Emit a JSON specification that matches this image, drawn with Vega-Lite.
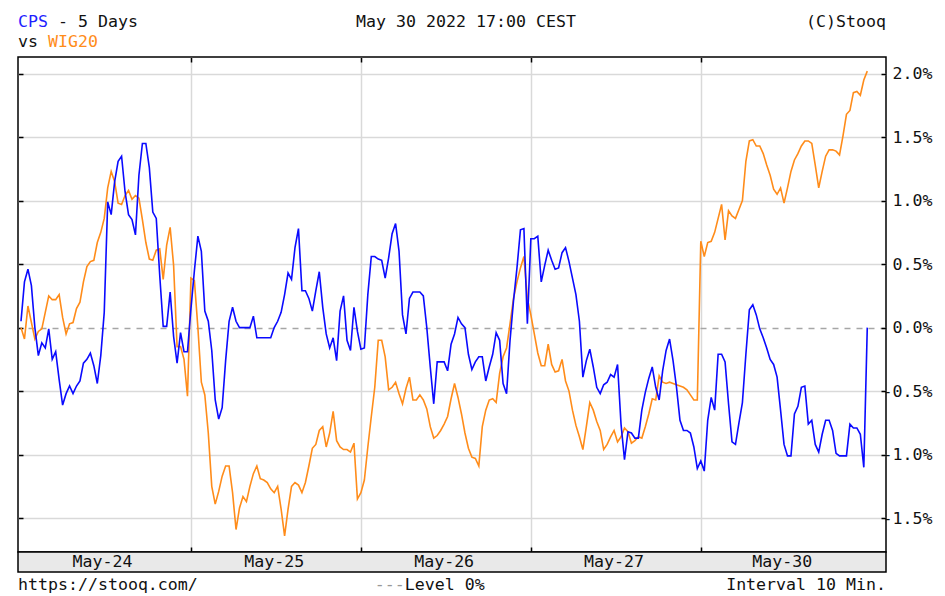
{
  "$schema": "https://vega.github.io/schema/vega-lite/v6.json",
  "background": "white",
  "padding": {"left": 16, "top": 0, "right": 0, "bottom": 0},
  "spacing": 0,
  "bounds": "flush",
  "config": {
    "font": "DejaVu Sans Mono",
    "text": {"font": "DejaVu Sans Mono", "fontSize": 16.6, "color": "#111111"},
    "axis": {"labelFont": "DejaVu Sans Mono", "labelFontSize": 16.6, "labelColor": "#111111"},
    "view": {"stroke": "black", "strokeWidth": 1.5}
  },
  "datasets": {
    "prices": [
      {"i":0,"cps":0.05,"wig20":0},{"i":1,"cps":0.36,"wig20":-0.09},{"i":2,"cps":0.46,"wig20":0.17},{"i":3,"cps":0.33,"wig20":0.04},{"i":4,"cps":0,"wig20":-0.09},{"i":5,"cps":-0.22,"wig20":-0.03},{"i":6,"cps":-0.12,"wig20":-0.01},{"i":7,"cps":-0.16,"wig20":0.12},{"i":8,"cps":-0.01,"wig20":0.25},{"i":9,"cps":-0.25,"wig20":0.22},
      {"i":10,"cps":-0.19,"wig20":0.22},{"i":11,"cps":-0.41,"wig20":0.26},{"i":12,"cps":-0.61,"wig20":0.08},{"i":13,"cps":-0.52,"wig20":-0.05},{"i":14,"cps":-0.46,"wig20":0.03},{"i":15,"cps":-0.52,"wig20":0.04},{"i":16,"cps":-0.46,"wig20":0.15},{"i":17,"cps":-0.42,"wig20":0.2},{"i":18,"cps":-0.28,"wig20":0.36},{"i":19,"cps":-0.25,"wig20":0.48},
      {"i":20,"cps":-0.2,"wig20":0.52},{"i":21,"cps":-0.3,"wig20":0.53},{"i":22,"cps":-0.44,"wig20":0.67},{"i":23,"cps":-0.22,"wig20":0.75},{"i":24,"cps":0.12,"wig20":0.86},{"i":25,"cps":0.99,"wig20":1.1},{"i":26,"cps":0.89,"wig20":1.23},{"i":27,"cps":1.15,"wig20":1.15},{"i":28,"cps":1.31,"wig20":0.98},{"i":29,"cps":1.35,"wig20":0.97},
      {"i":30,"cps":1.07,"wig20":1.04},{"i":31,"cps":0.89,"wig20":1.08},{"i":32,"cps":0.85,"wig20":1.01},{"i":33,"cps":0.73,"wig20":1.04},{"i":34,"cps":1.2,"wig20":1.02},{"i":35,"cps":1.45,"wig20":0.85},{"i":36,"cps":1.45,"wig20":0.67},{"i":37,"cps":1.26,"wig20":0.54},{"i":38,"cps":0.91,"wig20":0.53},{"i":39,"cps":0.86,"wig20":0.61},
      {"i":40,"cps":0.41,"wig20":0.62},{"i":41,"cps":0.01,"wig20":0.38},{"i":42,"cps":0.01,"wig20":0.65},{"i":43,"cps":0.28,"wig20":0.79},{"i":44,"cps":-0.07,"wig20":0.49},{"i":45,"cps":-0.28,"wig20":-0.15},{"i":46,"cps":-0.04,"wig20":-0.15},{"i":47,"cps":-0.19,"wig20":-0.25},{"i":48,"cps":-0.19,"wig20":-0.54},
      {"i":49,"cps":0.15,"wig20":0.39},{"i":50,"cps":0.45,"wig20":0.37},{"i":51,"cps":0.72,"wig20":0},{"i":52,"cps":0.6,"wig20":-0.43},{"i":53,"cps":0.13,"wig20":-0.53},{"i":54,"cps":0.05,"wig20":-0.83},{"i":55,"cps":-0.18,"wig20":-1.25},{"i":56,"cps":-0.57,"wig20":-1.39},{"i":57,"cps":-0.72,"wig20":-1.29},{"i":58,"cps":-0.63,"wig20":-1.17},
      {"i":59,"cps":-0.26,"wig20":-1.09},{"i":60,"cps":0.05,"wig20":-1.09},{"i":61,"cps":0.16,"wig20":-1.3},{"i":62,"cps":0.05,"wig20":-1.59},{"i":63,"cps":0,"wig20":-1.42},{"i":64,"cps":0,"wig20":-1.33},{"i":65,"cps":0,"wig20":-1.37},{"i":66,"cps":0,"wig20":-1.25},{"i":67,"cps":0.09,"wig20":-1.15},{"i":68,"cps":-0.08,"wig20":-1.09},
      {"i":69,"cps":-0.08,"wig20":-1.19},{"i":70,"cps":-0.08,"wig20":-1.2},{"i":71,"cps":-0.08,"wig20":-1.22},{"i":72,"cps":-0.08,"wig20":-1.27},{"i":73,"cps":0,"wig20":-1.3},{"i":74,"cps":0.05,"wig20":-1.25},{"i":75,"cps":0.12,"wig20":-1.43},{"i":76,"cps":0.26,"wig20":-1.64},{"i":77,"cps":0.43,"wig20":-1.43},{"i":78,"cps":0.38,"wig20":-1.25},
      {"i":79,"cps":0.63,"wig20":-1.22},{"i":80,"cps":0.78,"wig20":-1.24},{"i":81,"cps":0.29,"wig20":-1.3},{"i":82,"cps":0.29,"wig20":-1.22},{"i":83,"cps":0.23,"wig20":-1.09},{"i":84,"cps":0.13,"wig20":-0.95},{"i":85,"cps":0.29,"wig20":-0.92},{"i":86,"cps":0.44,"wig20":-0.81},{"i":87,"cps":0.16,"wig20":-0.78},{"i":88,"cps":-0.05,"wig20":-0.94},
      {"i":89,"cps":-0.16,"wig20":-0.83},{"i":90,"cps":-0.08,"wig20":-0.66},{"i":91,"cps":-0.26,"wig20":-0.89},{"i":92,"cps":0.13,"wig20":-0.94},{"i":93,"cps":0.25,"wig20":-0.96},{"i":94,"cps":-0.1,"wig20":-0.96},{"i":95,"cps":-0.18,"wig20":-0.98},{"i":96,"cps":0.16,"wig20":-0.91},{"i":97,"cps":-0.03,"wig20":-1.35},
      {"i":98,"cps":-0.17,"wig20":-1.3},{"i":99,"cps":-0.16,"wig20":-1.2},{"i":100,"cps":0.26,"wig20":-0.94},{"i":101,"cps":0.56,"wig20":-0.7},{"i":102,"cps":0.56,"wig20":-0.47},{"i":103,"cps":0.54,"wig20":-0.1},{"i":104,"cps":0.53,"wig20":-0.1},{"i":105,"cps":0.39,"wig20":-0.23},{"i":106,"cps":0.55,"wig20":-0.49},{"i":107,"cps":0.74,"wig20":-0.47},
      {"i":108,"cps":0.82,"wig20":-0.43},{"i":109,"cps":0.6,"wig20":-0.52},{"i":110,"cps":0.1,"wig20":-0.6},{"i":111,"cps":-0.05,"wig20":-0.48},{"i":112,"cps":0.23,"wig20":-0.39},{"i":113,"cps":0.28,"wig20":-0.57},{"i":114,"cps":0.28,"wig20":-0.57},{"i":115,"cps":0.28,"wig20":-0.53},{"i":116,"cps":0.25,"wig20":-0.57},{"i":117,"cps":0,"wig20":-0.64},
      {"i":118,"cps":-0.31,"wig20":-0.78},{"i":119,"cps":-0.6,"wig20":-0.87},{"i":120,"cps":-0.27,"wig20":-0.85},{"i":121,"cps":-0.27,"wig20":-0.81},{"i":122,"cps":-0.27,"wig20":-0.76},{"i":123,"cps":-0.34,"wig20":-0.7},{"i":124,"cps":-0.13,"wig20":-0.56},{"i":125,"cps":-0.05,"wig20":-0.44},{"i":126,"cps":0.08,"wig20":-0.55},{"i":127,"cps":0.03,"wig20":-0.68},
      {"i":128,"cps":0,"wig20":-0.83},{"i":129,"cps":-0.21,"wig20":-0.95},{"i":130,"cps":-0.33,"wig20":-1.02},{"i":131,"cps":-0.27,"wig20":-1.03},{"i":132,"cps":-0.23,"wig20":-1.09},{"i":133,"cps":-0.23,"wig20":-0.78},{"i":134,"cps":-0.42,"wig20":-0.65},{"i":135,"cps":-0.31,"wig20":-0.57},{"i":136,"cps":-0.21,"wig20":-0.56},{"i":137,"cps":-0.04,"wig20":-0.59},
      {"i":138,"cps":-0.1,"wig20":-0.36},{"i":139,"cps":-0.44,"wig20":-0.23},{"i":140,"cps":-0.52,"wig20":-0.16},{"i":141,"cps":-0.1,"wig20":0.03},{"i":142,"cps":0.21,"wig20":0.23},{"i":143,"cps":0.47,"wig20":0.36},{"i":144,"cps":0.77,"wig20":0.47},{"i":145,"cps":0.78,"wig20":0.56},{"i":146,"cps":0.03,"wig20":0.23},
      {"i":147,"cps":0.7,"wig20":0.1},{"i":148,"cps":0.7,"wig20":-0.05},{"i":149,"cps":0.72,"wig20":-0.2},{"i":150,"cps":0.36,"wig20":-0.3},{"i":151,"cps":0.49,"wig20":-0.3},{"i":152,"cps":0.61,"wig20":-0.13},{"i":153,"cps":0.53,"wig20":-0.29},{"i":154,"cps":0.46,"wig20":-0.35},{"i":155,"cps":0.47,"wig20":-0.34},{"i":156,"cps":0.59,"wig20":-0.25},
      {"i":157,"cps":0.63,"wig20":-0.42},{"i":158,"cps":0.52,"wig20":-0.5},{"i":159,"cps":0.39,"wig20":-0.65},{"i":160,"cps":0.26,"wig20":-0.77},{"i":161,"cps":0.05,"wig20":-0.86},{"i":162,"cps":-0.39,"wig20":-0.96},{"i":163,"cps":-0.26,"wig20":-0.78},{"i":164,"cps":-0.17,"wig20":-0.59},{"i":165,"cps":-0.31,"wig20":-0.65},{"i":166,"cps":-0.47,"wig20":-0.74},
      {"i":167,"cps":-0.52,"wig20":-0.81},{"i":168,"cps":-0.45,"wig20":-0.96},{"i":169,"cps":-0.43,"wig20":-0.92},{"i":170,"cps":-0.37,"wig20":-0.86},{"i":171,"cps":-0.39,"wig20":-0.81},{"i":172,"cps":-0.29,"wig20":-0.9},{"i":173,"cps":-0.76,"wig20":-0.86},{"i":174,"cps":-1.04,"wig20":-0.79},{"i":175,"cps":-0.82,"wig20":-0.82},{"i":176,"cps":-0.83,"wig20":-0.91},
      {"i":177,"cps":-0.87,"wig20":-0.89},{"i":178,"cps":-0.87,"wig20":-0.86},{"i":179,"cps":-0.65,"wig20":-0.87},{"i":180,"cps":-0.51,"wig20":-0.78},{"i":181,"cps":-0.4,"wig20":-0.68},{"i":182,"cps":-0.31,"wig20":-0.56},{"i":183,"cps":-0.47,"wig20":-0.57},{"i":184,"cps":-0.57,"wig20":-0.38},{"i":185,"cps":-0.34,"wig20":-0.43},{"i":186,"cps":-0.18,"wig20":-0.44},
      {"i":187,"cps":-0.09,"wig20":-0.43},{"i":188,"cps":-0.26,"wig20":-0.44},{"i":189,"cps":-0.47,"wig20":-0.45},{"i":190,"cps":-0.73,"wig20":-0.46},{"i":191,"cps":-0.81,"wig20":-0.47},{"i":192,"cps":-0.81,"wig20":-0.49},{"i":193,"cps":-0.83,"wig20":-0.53},{"i":194,"cps":-0.94,"wig20":-0.57},{"i":195,"cps":-1.11,"wig20":-0.57},
      {"i":196,"cps":-1.05,"wig20":0.68},{"i":197,"cps":-1.13,"wig20":0.56},{"i":198,"cps":-0.73,"wig20":0.67},{"i":199,"cps":-0.55,"wig20":0.68},{"i":200,"cps":-0.65,"wig20":0.75},{"i":201,"cps":-0.21,"wig20":0.86},{"i":202,"cps":-0.21,"wig20":0.97},{"i":203,"cps":-0.27,"wig20":0.69},{"i":204,"cps":-0.6,"wig20":0.92},{"i":205,"cps":-0.9,"wig20":0.88},
      {"i":206,"cps":-0.92,"wig20":0.86},{"i":207,"cps":-0.75,"wig20":0.93},{"i":208,"cps":-0.59,"wig20":1.0},{"i":209,"cps":-0.21,"wig20":1.31},{"i":210,"cps":0.14,"wig20":1.47},{"i":211,"cps":0.18,"wig20":1.48},{"i":212,"cps":0.1,"wig20":1.43},{"i":213,"cps":-0.01,"wig20":1.43},{"i":214,"cps":-0.08,"wig20":1.37},{"i":215,"cps":-0.16,"wig20":1.28},
      {"i":216,"cps":-0.25,"wig20":1.2},{"i":217,"cps":-0.29,"wig20":1.09},{"i":218,"cps":-0.39,"wig20":1.05},{"i":219,"cps":-0.65,"wig20":1.1},{"i":220,"cps":-0.92,"wig20":0.98},{"i":221,"cps":-1.01,"wig20":1.1},{"i":222,"cps":-1.01,"wig20":1.23},{"i":223,"cps":-0.68,"wig20":1.32},{"i":224,"cps":-0.62,"wig20":1.37},{"i":225,"cps":-0.47,"wig20":1.43},
      {"i":226,"cps":-0.46,"wig20":1.47},{"i":227,"cps":-0.76,"wig20":1.47},{"i":228,"cps":-0.73,"wig20":1.45},{"i":229,"cps":-0.92,"wig20":1.28},{"i":230,"cps":-0.98,"wig20":1.1},{"i":231,"cps":-0.84,"wig20":1.23},{"i":232,"cps":-0.73,"wig20":1.35},{"i":233,"cps":-0.73,"wig20":1.4},{"i":234,"cps":-0.81,"wig20":1.4},{"i":235,"cps":-0.99,"wig20":1.39},
      {"i":236,"cps":-1.01,"wig20":1.36},{"i":237,"cps":-1.01,"wig20":1.51},{"i":238,"cps":-1.01,"wig20":1.68},{"i":239,"cps":-0.76,"wig20":1.71},{"i":240,"cps":-0.79,"wig20":1.85},{"i":241,"cps":-0.79,"wig20":1.86},{"i":242,"cps":-0.84,"wig20":1.83},{"i":243,"cps":-1.1,"wig20":1.95},{"i":244,"cps":0,"wig20":2.02}
    ],
    "days": [
      {"day": "May-24", "i": 23.5},
      {"day": "May-25", "i": 73},
      {"day": "May-26", "i": 122},
      {"day": "May-27", "i": 171},
      {"day": "May-30", "i": 219.5}
    ]
  },
  "vconcat": [
    {
      "width": 868,
      "height": 57,
      "view": {"stroke": null},
      "layer": [
        {
          "data": {"values": [{"t": "CPS"}]},
          "mark": {"type": "text", "align": "left", "baseline": "alphabetic", "dy": -1.8, "color": "#1f1fff"},
          "encoding": {
            "x": {"datum": -0.865, "type": "quantitative", "scale": {"domain": [-0.865, 249.4], "nice": false, "zero": false}, "axis": null},
            "text": {"field": "t"}
          }
        },
        {
          "data": {"values": [{"t": "- 5 Days"}]},
          "mark": {"type": "text", "align": "left", "baseline": "alphabetic", "dy": -1.8, "dx": 40},
          "encoding": {
            "x": {"datum": -0.865, "type": "quantitative", "axis": null},
            "text": {"field": "t"}
          }
        },
        {
          "data": {"values": [{"t": "vs"}]},
          "mark": {"type": "text", "align": "left", "baseline": "alphabetic", "dy": 18.2},
          "encoding": {
            "x": {"datum": -0.865, "type": "quantitative", "axis": null},
            "text": {"field": "t"}
          }
        },
        {
          "data": {"values": [{"t": "WIG20"}]},
          "mark": {"type": "text", "align": "left", "baseline": "alphabetic", "dy": 18.2, "dx": 30, "color": "#ff8c1a"},
          "encoding": {
            "x": {"datum": -0.865, "type": "quantitative", "axis": null},
            "text": {"field": "t"}
          }
        },
        {
          "data": {"values": [{"t": "May 30 2022 17:00 CEST"}]},
          "mark": {"type": "text", "align": "center", "baseline": "alphabetic", "dy": -1.8},
          "encoding": {
            "x": {"datum": 128.3, "type": "quantitative", "axis": null},
            "text": {"field": "t"}
          }
        },
        {
          "data": {"values": [{"t": "(C)Stooq"}]},
          "mark": {"type": "text", "align": "right", "baseline": "alphabetic", "dy": -1.8},
          "encoding": {
            "x": {"datum": 249.4, "type": "quantitative", "axis": null},
            "text": {"field": "t"}
          }
        }
      ]
    },
    {
      "width": 868,
      "height": 495,
      "data": {"name": "prices"},
      "resolve": {"axis": {"x": "independent", "y": "independent"}},
      "layer": [
        {
          "mark": {"type": "line", "color": "#ff8c1a", "strokeWidth": 1.6},
          "encoding": {
            "x": {
              "field": "i",
              "type": "quantitative",
              "scale": {"domain": [-0.865, 249.4], "nice": false, "zero": false},
              "axis": {
                "orient": "bottom",
                "values": [49, 98, 147, 196],
                "grid": true,
                "gridColor": "#d9d9d9",
                "gridWidth": 1.5,
                "labels": false,
                "ticks": true,
                "tickSize": -5,
                "tickColor": "black",
                "tickWidth": 1.5,
                "domain": false,
                "title": null
              }
            },
            "y": {
              "field": "wig20",
              "type": "quantitative",
              "scale": {"domain": [-1.767, 2.131], "nice": false, "zero": false},
              "axis": {
                "orient": "right",
                "values": [-1.5, -1, -0.5, 0, 0.5, 1, 1.5, 2],
                "title": null,
                "domain": false,
                "grid": true,
                "gridColor": {"condition": {"test": "datum.value === 0", "value": "#a6a6a6"}, "value": "#d9d9d9"},
                "gridDash": {"condition": {"test": "datum.value === 0", "value": [6, 6]}, "value": []},
                "gridWidth": 1.5,
                "ticks": true,
                "tickColor": "black",
                "tickWidth": 1.5,
                "tickSize": -5,
                "labelAlign": "right",
                "labelPadding": 51,
                "labelExpr": "replace(format(datum.value, '.1f'), '\u2212', '-') + '%'"
              }
            }
          }
        },
        {
          "mark": {"type": "line", "color": "#0a0aff", "strokeWidth": 1.6},
          "encoding": {
            "x": {
              "field": "i",
              "type": "quantitative",
              "scale": {"domain": [-0.865, 249.4], "nice": false, "zero": false},
              "axis": {
                "orient": "top",
                "values": [49, 98, 147, 196],
                "grid": false,
                "labels": false,
                "ticks": true,
                "tickSize": -5,
                "tickColor": "black",
                "tickWidth": 1.5,
                "domain": false,
                "title": null
              }
            },
            "y": {
              "field": "cps",
              "type": "quantitative",
              "scale": {"domain": [-1.767, 2.131], "nice": false, "zero": false},
              "axis": {
                "orient": "left",
                "values": [-1.5, -1, -0.5, 0, 0.5, 1, 1.5, 2],
                "title": null,
                "domain": false,
                "grid": false,
                "labels": false,
                "ticks": true,
                "tickColor": "black",
                "tickWidth": 1.5,
                "tickSize": -5
              }
            }
          }
        }
      ]
    },
    {
      "width": 868,
      "height": 20,
      "view": {"fill": "#e9e9e9", "stroke": "black", "strokeWidth": 1.5},
      "data": {"name": "days"},
      "mark": {"type": "text", "baseline": "middle"},
      "encoding": {
        "x": {"field": "i", "type": "quantitative", "scale": {"domain": [-0.865, 249.4], "nice": false, "zero": false}, "axis": null},
        "text": {"field": "day"}
      }
    },
    {
      "width": 868,
      "height": 22,
      "view": {"stroke": null},
      "layer": [
        {
          "data": {"values": [{"t": "https://stooq.com/"}]},
          "mark": {"type": "text", "align": "left", "baseline": "middle", "dy": 2},
          "encoding": {
            "x": {"datum": -0.865, "type": "quantitative", "scale": {"domain": [-0.865, 249.4], "nice": false, "zero": false}, "axis": null},
            "text": {"field": "t"}
          }
        },
        {
          "data": {"values": [{"t": "---"}]},
          "mark": {"type": "text", "align": "left", "baseline": "middle", "dy": 2, "color": "#999999"},
          "encoding": {
            "x": {"datum": 102, "type": "quantitative", "axis": null},
            "text": {"field": "t"}
          }
        },
        {
          "data": {"values": [{"t": "Level 0%"}]},
          "mark": {"type": "text", "align": "left", "baseline": "middle", "dy": 2, "dx": 30},
          "encoding": {
            "x": {"datum": 102, "type": "quantitative", "axis": null},
            "text": {"field": "t"}
          }
        },
        {
          "data": {"values": [{"t": "Interval 10 Min."}]},
          "mark": {"type": "text", "align": "right", "baseline": "middle", "dy": 2},
          "encoding": {
            "x": {"datum": 249.4, "type": "quantitative", "axis": null},
            "text": {"field": "t"}
          }
        }
      ]
    }
  ]
}
